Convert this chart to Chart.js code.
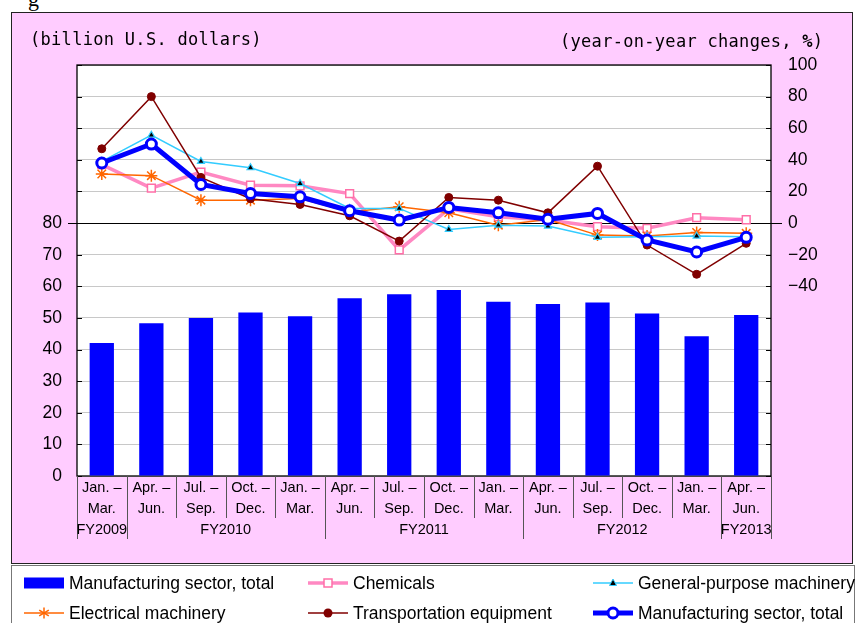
<!DOCTYPE html>
<html>
<head>
<meta charset="utf-8">
<script src="https://cdn.jsdelivr.net/npm/chart.js@4.4.1/dist/chart.umd.min.js"></script>
<style>
  html, body { margin: 0; padding: 0; background: #fff; width: 856px; height: 623px; overflow: hidden; font-family: "Liberation Sans", Arial, sans-serif; }
  #frame { position: absolute; left: 11px; top: 12px; width: 840px; height: 550px; background: #FFCCFF; border: 1px solid #222; }
  #legendBox { position: absolute; left: 11px; top: 565px; width: 842px; height: 80px; background: #fff; border: 1px solid #777; }
  #chart { position: absolute; left: 0; top: 0; }
  .ttl { position: absolute; font-family: "DejaVu Sans Mono", monospace; font-size: 17px; letter-spacing: 0.3px; color: #000; line-height: 20px; white-space: pre; }
  .frag { position: absolute; left: 28px; top: -14px; font-family: "Liberation Serif", serif; font-size: 22px; }
  .lg { position: absolute; display: flex; align-items: center; height: 20px; font-size: 17.5px; color: #000; white-space: nowrap; }
  .lg svg { margin-right: 5px; flex: none; }
</style>
</head>
<body>
<div class="frag">g</div>
<div id="frame"></div>
<div id="legendBox"></div>
<canvas id="chart" width="856" height="623"></canvas>
<div class="ttl" style="left:30px; top:29px;">(billion U.S. dollars)</div>
<div class="ttl" style="left:560px; top:31px;">(year-on-year changes, <b>%</b>)</div>

<div class="lg" style="left:24px; top:573px;">
  <svg width="40" height="20"><rect x="0" y="4.5" width="40" height="11" fill="#0000FF"/></svg>Manufacturing sector, total</div>
<div class="lg" style="left:308px; top:573px;">
  <svg width="40" height="20"><line x1="0" y1="10" x2="40" y2="10" stroke="#FF88C2" stroke-width="3.5"/><rect x="16" y="6" width="8" height="8" fill="#fff" stroke="#FF6FA8" stroke-width="1.5"/></svg>Chemicals</div>
<div class="lg" style="left:593px; top:573px;">
  <svg width="40" height="20"><line x1="0" y1="10" x2="40" y2="10" stroke="#33CCFF" stroke-width="1.5"/><polygon points="20,6 23.5,12.5 16.5,12.5" fill="#000" stroke="#33CCFF" stroke-width="1"/></svg>General-purpose machinery</div>
<div class="lg" style="left:24px; top:603px;">
  <svg width="40" height="20"><line x1="0" y1="10" x2="40" y2="10" stroke="#FF6600" stroke-width="1.5"/><g stroke="#FF6600" stroke-width="1.5"><line x1="20" y1="4.5" x2="20" y2="15.5"/><line x1="15.2" y1="7.2" x2="24.8" y2="12.8"/><line x1="15.2" y1="12.8" x2="24.8" y2="7.2"/></g></svg>Electrical machinery</div>
<div class="lg" style="left:308px; top:603px;">
  <svg width="40" height="20"><line x1="0" y1="10" x2="40" y2="10" stroke="#800000" stroke-width="1.5"/><circle cx="20" cy="10" r="4.5" fill="#800000"/></svg>Transportation equipment</div>
<div class="lg" style="left:593px; top:603px;">
  <svg width="40" height="20"><line x1="0" y1="10" x2="40" y2="10" stroke="#0000FF" stroke-width="5"/><circle cx="20" cy="10" r="5" fill="#fff" stroke="#0000FF" stroke-width="3"/></svg>Manufacturing sector, total</div>

<script>
// quarters and fiscal years
const quarters = [
  ['Jan. \u2013', 'Mar.'], ['Apr. \u2013', 'Jun.'], ['Jul. \u2013', 'Sep.'], ['Oct. \u2013', 'Dec.'],
  ['Jan. \u2013', 'Mar.'], ['Apr. \u2013', 'Jun.'], ['Jul. \u2013', 'Sep.'], ['Oct. \u2013', 'Dec.'],
  ['Jan. \u2013', 'Mar.'], ['Apr. \u2013', 'Jun.'], ['Jul. \u2013', 'Sep.'], ['Oct. \u2013', 'Dec.'],
  ['Jan. \u2013', 'Mar.'], ['Apr. \u2013', 'Jun.']
];
const fiscalYears = ['FY2009', 'FY2010', 'FY2011', 'FY2012', 'FY2013'];
const fiscalYearSpans = [1, 4, 4, 4, 1];

// billion U.S. dollars (bars)
const mfgTotalValue = [42.1, 48.3, 50.0, 51.7, 50.5, 56.2, 57.5, 58.8, 55.1, 54.4, 54.9, 51.4, 44.2, 50.9];

// year-on-year changes, % (lines)
const mfgTotalChange = [38, 50, 24.4, 18.7, 16.6, 7.8, 1.9, 9.9, 6.5, 2.5, 6.1, -10.7, -18.3, -9];
const chemicals      = [37, 22.1, 32.2, 24, 23.6, 18.7, -17, 9, 4, 2, -2.3, -3.3, 3.4, 2.1];
const generalPurpose = [39, 55.6, 39, 35, 25, 9.3, 9.3, -4, -1.3, -1.9, -9, -8.6, -8.2, -8.6];
const electrical     = [31, 30, 14.5, 14.5, 15.5, 7, 10.3, 6.5, -1.3, 2.3, -7.6, -8.2, -5.9, -6.5];
const transportation = [47, 80, 28.9, 15.4, 11.8, 4.6, -11.4, 16.2, 14.5, 6.5, 36, -13.9, -32.4, -12.8];

Chart.defaults.font.family = '"Liberation Sans", Arial, sans-serif';
Chart.defaults.color = '#000';

const decor = {
  id: 'decor',
  beforeDraw(chart) {
    const { ctx, chartArea: a } = chart;
    ctx.save();
    ctx.fillStyle = '#fff';
    ctx.fillRect(a.left, a.top, a.right - a.left, a.bottom - a.top);
    ctx.restore();
  },
  beforeDatasetsDraw(chart) {
    const { ctx, chartArea: a } = chart;
    const yVal = chart.scales.yVal, yPct = chart.scales.yPct;
    ctx.save();
    ctx.strokeStyle = '#000';
    ctx.lineWidth = 1;
    // small inward tick marks
    yVal.ticks.forEach(t => {
      const y = Math.round(yVal.getPixelForValue(t.value)) + 0.5;
      ctx.beginPath();
      ctx.moveTo(a.left, y); ctx.lineTo(a.left + 5, y);
      ctx.moveTo(a.right - 5, y); ctx.lineTo(a.right, y);
      ctx.stroke();
    });
    // zero line of the % axis
    const y0 = Math.round(yPct.getPixelForValue(0)) + 0.5;
    ctx.beginPath();
    ctx.moveTo(a.left - 9, y0); ctx.lineTo(a.right + 11, y0);
    ctx.stroke();
    // plot border
    ctx.lineWidth = 1.3;
    ctx.strokeRect(a.left, a.top, a.right - a.left, a.bottom - a.top);
    ctx.restore();
  },
  afterDraw(chart) {
    const { ctx, chartArea: a } = chart;
    const x = chart.scales.x;
    const half = (x.getPixelForValue(1) - x.getPixelForValue(0)) / 2;
    const edge = i => x.getPixelForValue(i) - half;
    const longEdges = [0];
    fiscalYearSpans.forEach(n => longEdges.push(longEdges[longEdges.length - 1] + n));
    ctx.save();
    ctx.strokeStyle = '#555';
    ctx.lineWidth = 1;
    for (let i = 0; i <= quarters.length; i++) {
      const px = Math.round(edge(i)) + 0.5;
      const len = longEdges.includes(i) ? 63 : 42;
      ctx.beginPath();
      ctx.moveTo(px, a.bottom); ctx.lineTo(px, a.bottom + len);
      ctx.stroke();
    }
    ctx.fillStyle = '#000';
    ctx.font = '14.5px "Liberation Sans", Arial, sans-serif';
    ctx.textAlign = 'center';
    ctx.textBaseline = 'middle';
    fiscalYears.forEach((fy, k) => {
      const cx = (edge(longEdges[k]) + edge(longEdges[k + 1])) / 2;
      ctx.fillText(fy, cx, a.bottom + 54);
    });
    ctx.restore();
  }
};

new Chart(document.getElementById('chart'), {
  type: 'bar',
  data: {
    labels: quarters,
    datasets: [
      { type: 'line', label: 'Manufacturing sector, total', data: mfgTotalChange, yAxisID: 'yPct', order: 0,
        borderColor: '#0000FF', borderWidth: 5, pointStyle: 'circle', pointRadius: 5,
        pointBackgroundColor: '#fff', pointBorderColor: '#0000FF', pointBorderWidth: 3 },
      { type: 'line', label: 'Transportation equipment', data: transportation, yAxisID: 'yPct', order: 1,
        borderColor: '#800000', borderWidth: 1.5, pointStyle: 'circle', pointRadius: 4,
        pointBackgroundColor: '#800000', pointBorderColor: '#800000', pointBorderWidth: 1 },
      { type: 'line', label: 'General-purpose machinery', data: generalPurpose, yAxisID: 'yPct', order: 2,
        borderColor: '#33CCFF', borderWidth: 1.5, pointStyle: 'triangle', pointRadius: 4,
        pointBackgroundColor: '#000', pointBorderColor: '#33CCFF', pointBorderWidth: 1.2 },
      { type: 'line', label: 'Electrical machinery', data: electrical, yAxisID: 'yPct', order: 3,
        borderColor: '#FF6600', borderWidth: 1.5, pointStyle: 'star', pointRadius: 6,
        pointBackgroundColor: '#FF6600', pointBorderColor: '#FF6600', pointBorderWidth: 1.5 },
      { type: 'line', label: 'Chemicals', data: chemicals, yAxisID: 'yPct', order: 4,
        borderColor: '#FF88C2', borderWidth: 3.5, pointStyle: 'rect', pointRadius: 5.5,
        pointBackgroundColor: '#fff', pointBorderColor: '#FF6FA8', pointBorderWidth: 1.5 },
      { type: 'bar', label: 'Manufacturing sector, total', data: mfgTotalValue, yAxisID: 'yVal', order: 5,
        backgroundColor: '#0000FF', borderWidth: 0, barPercentage: 0.49, categoryPercentage: 1 }
    ]
  },
  options: {
    responsive: false,
    animation: false,
    events: [],
    layout: { padding: { top: 65, left: 0, right: 0, bottom: 0 } },
    plugins: { legend: { display: false }, tooltip: { enabled: false } },
    scales: {
      x: {
        offset: true,
        grid: { display: false, drawTicks: false },
        border: { display: false },
        ticks: { font: { size: 14.5, lineHeight: 1.45 }, padding: 1, maxRotation: 0, autoSkip: false },
        afterFit: s => { s.height = 147; }
      },
      yVal: {
        position: 'left', min: 0, max: 130,
        ticks: { stepSize: 10, font: { size: 17.5 }, padding: 15, callback: v => (v <= 80 ? v : '') },
        grid: { color: '#C8C8C8', drawTicks: false },
        border: { display: false },
        afterFit: s => { s.width = 77; }
      },
      yPct: {
        position: 'right', min: -160, max: 100,
        ticks: { stepSize: 20, font: { size: 17.5 }, padding: 17,
          callback: v => (v >= -40 ? (v < 0 ? '\u2212' + Math.abs(v) : v) : '') },
        grid: { display: false, drawTicks: false },
        border: { display: false },
        afterFit: s => { s.width = 85; }
      }
    }
  },
  plugins: [decor]
});
</script>
</body>
</html>
